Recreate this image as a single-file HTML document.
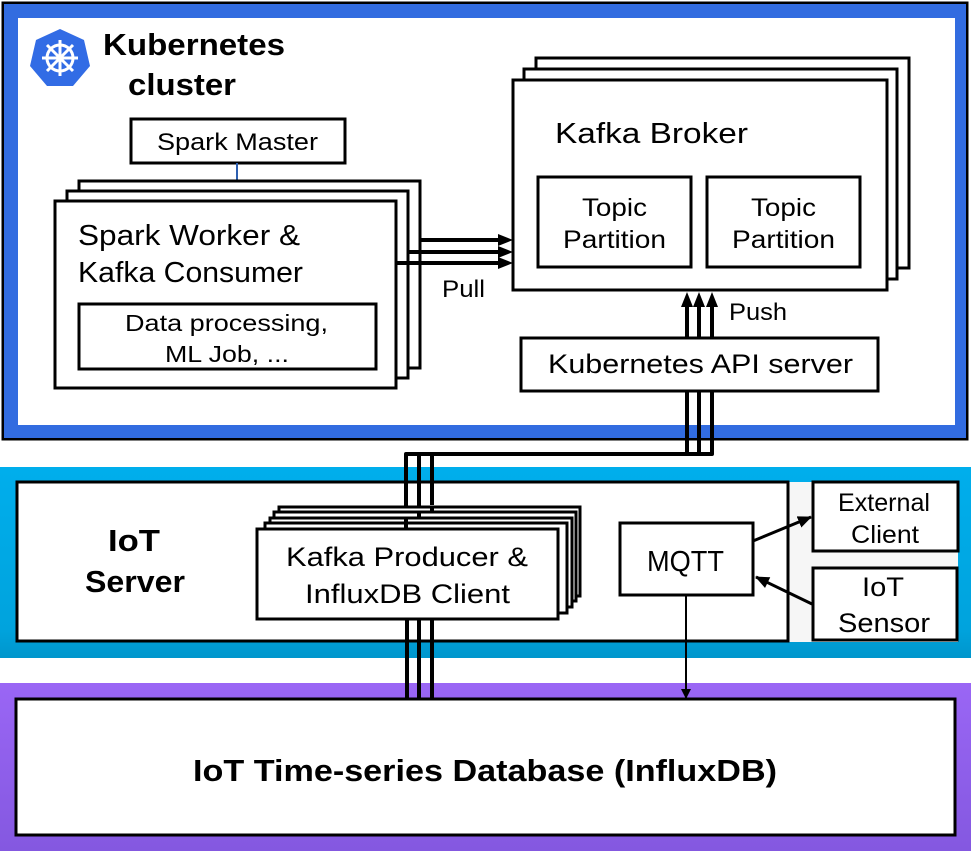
<!DOCTYPE html>
<html><head><meta charset="utf-8"><style>
html,body{margin:0;padding:0;background:#fff;}
svg{display:block;}
text{font-family:"Liberation Sans","DejaVu Sans",sans-serif;fill:#000;}
</style></head><body>
<svg width="971" height="851" viewBox="0 0 971 851" xmlns="http://www.w3.org/2000/svg">
<defs>
<linearGradient id="cy" x1="0" y1="0" x2="0" y2="1"><stop offset="0" stop-color="#00aeec"/><stop offset="0.85" stop-color="#00a3dd"/><stop offset="1" stop-color="#0096cc"/></linearGradient>
<linearGradient id="pu" x1="0" y1="0" x2="0" y2="1"><stop offset="0" stop-color="#9a66f5"/><stop offset="1" stop-color="#8458e0"/></linearGradient>
<marker id="ah" markerWidth="10" markerHeight="10" refX="9" refY="5" orient="auto" markerUnits="userSpaceOnUse"><path d="M0,0 L10,5 L0,10 z" fill="#000"/></marker>
<marker id="ahb" markerWidth="14" markerHeight="12" refX="13" refY="6" orient="auto" markerUnits="userSpaceOnUse"><path d="M0,0 L14,6 L0,12 z" fill="#000"/></marker>
</defs>

<rect x="1.5" y="1.5" width="967" height="439" fill="#000"/>
<rect x="4" y="4" width="962" height="434" fill="#326ce0"/>
<rect x="18" y="18" width="937" height="407" fill="#fff"/>

<polygon points="60,29 84,40 90,66 73,86 47,86 30,66 36,40" fill="#326ce5"/>
<g stroke="#fff" stroke-width="3" fill="none">
<circle cx="60" cy="58" r="13"/>
<line x1="60" y1="40" x2="60" y2="76"/><line x1="42" y1="58" x2="78" y2="58"/>
<line x1="47" y1="45" x2="73" y2="71"/><line x1="73" y1="45" x2="47" y2="71"/>
</g>
<circle cx="60" cy="58" r="3" fill="#fff"/>

<text x="103" y="55" font-size="31" font-weight="bold" textLength="182" lengthAdjust="spacingAndGlyphs">Kubernetes</text>
<text x="128" y="95" font-size="31" font-weight="bold" textLength="108" lengthAdjust="spacingAndGlyphs">cluster</text>

<rect x="131" y="119" width="214" height="44" fill="#fff" stroke="#000" stroke-width="3"/>
<text x="157" y="150" font-size="24" textLength="161" lengthAdjust="spacingAndGlyphs">Spark Master</text>
<line x1="237" y1="163" x2="237" y2="190" stroke="#2d5fb0" stroke-width="2"/>

<rect x="79" y="181" width="341" height="187" fill="#fff" stroke="#000" stroke-width="3"/>
<rect x="67" y="191" width="341" height="187" fill="#fff" stroke="#000" stroke-width="3"/>
<rect x="55" y="201" width="341" height="187" fill="#fff" stroke="#000" stroke-width="3"/>
<text x="78" y="245" font-size="29" textLength="222" lengthAdjust="spacingAndGlyphs">Spark Worker &amp;</text>
<text x="78" y="282" font-size="29" textLength="225" lengthAdjust="spacingAndGlyphs">Kafka Consumer</text>
<rect x="79" y="304" width="297" height="65" fill="#fff" stroke="#000" stroke-width="3"/>
<text x="125" y="331" font-size="23" textLength="203" lengthAdjust="spacingAndGlyphs">Data processing,</text>
<text x="165" y="362" font-size="23" textLength="124" lengthAdjust="spacingAndGlyphs">ML Job, ...</text>

<rect x="536" y="58" width="373" height="210" fill="#fff" stroke="#000" stroke-width="3"/>
<rect x="524" y="69" width="373" height="210" fill="#fff" stroke="#000" stroke-width="3"/>
<rect x="513" y="80" width="374" height="210" fill="#fff" stroke="#000" stroke-width="3"/>
<text x="555" y="143" font-size="29" textLength="193" lengthAdjust="spacingAndGlyphs">Kafka Broker</text>
<rect x="538" y="177" width="153" height="90" fill="#fff" stroke="#000" stroke-width="3"/>
<rect x="707" y="177" width="153" height="90" fill="#fff" stroke="#000" stroke-width="3"/>
<text x="582" y="216" font-size="25" textLength="65" lengthAdjust="spacingAndGlyphs">Topic</text>
<text x="563" y="248" font-size="25" textLength="103" lengthAdjust="spacingAndGlyphs">Partition</text>
<text x="751" y="216" font-size="25" textLength="65" lengthAdjust="spacingAndGlyphs">Topic</text>
<text x="732" y="248" font-size="25" textLength="103" lengthAdjust="spacingAndGlyphs">Partition</text>

<g stroke="#000" stroke-width="4">
<line x1="420" y1="240" x2="500" y2="240"/>
<line x1="408" y1="252" x2="500" y2="252"/>
<line x1="396" y1="263" x2="500" y2="263"/>
</g>
<path d="M498,234 L513,240 L498,246 z M498,246 L513,252 L498,258 z M498,257 L513,263 L498,269 z" fill="#000"/>
<text x="442" y="297" font-size="24" textLength="43" lengthAdjust="spacingAndGlyphs">Pull</text>

<rect x="521" y="338" width="357" height="53" fill="#fff" stroke="#000" stroke-width="3"/>
<text x="548" y="373" font-size="27" textLength="305" lengthAdjust="spacingAndGlyphs">Kubernetes API server</text>
<g stroke="#000" stroke-width="4">
<line x1="687" y1="338" x2="687" y2="304"/>
<line x1="699" y1="338" x2="699" y2="304"/>
<line x1="712" y1="338" x2="712" y2="304"/>
</g>
<path d="M681,307 L687,292 L693,307 z M693,307 L699,292 L705,307 z M706,307 L712,292 L718,307 z" fill="#000"/>
<text x="729" y="320" font-size="24" textLength="58" lengthAdjust="spacingAndGlyphs">Push</text>

<rect x="0" y="467" width="971" height="191" fill="url(#cy)"/>
<rect x="788" y="482" width="170" height="160" fill="#f6f6f6"/>
<rect x="17" y="482" width="771" height="159" fill="#fff" stroke="#000" stroke-width="3"/>
<text x="108" y="551" font-size="31" font-weight="bold" textLength="52" lengthAdjust="spacingAndGlyphs">IoT</text>
<text x="85" y="592" font-size="31" font-weight="bold" textLength="100" lengthAdjust="spacingAndGlyphs">Server</text>

<path d="M712,391 L712,454 L406,454 L406,529" fill="none" stroke="#000" stroke-width="4" stroke-linejoin="round"/>
<line x1="699" y1="391" x2="699" y2="454" stroke="#000" stroke-width="4"/>
<line x1="687" y1="391" x2="687" y2="454" stroke="#000" stroke-width="4"/>
<line x1="419" y1="454" x2="419" y2="515" stroke="#000" stroke-width="4"/>
<line x1="432" y1="454" x2="432" y2="505" stroke="#000" stroke-width="4"/>

<rect x="279" y="507" width="301" height="89" fill="#fff" stroke="#000" stroke-width="3"/>
<line x1="432" y1="507" x2="432" y2="513" stroke="#000" stroke-width="4"/>
<rect x="274" y="512" width="302" height="89" fill="#fff" stroke="#000" stroke-width="3"/>
<line x1="419" y1="512" x2="419" y2="518" stroke="#000" stroke-width="4"/>
<rect x="270" y="518" width="302" height="89" fill="#fff" stroke="#000" stroke-width="3"/>
<line x1="406" y1="518" x2="406" y2="524" stroke="#000" stroke-width="4"/>
<rect x="265" y="523" width="302" height="90" fill="#fff" stroke="#000" stroke-width="3"/>
<line x1="406" y1="523" x2="406" y2="529" stroke="#000" stroke-width="4"/>
<rect x="257" y="529" width="301" height="90" fill="#fff" stroke="#000" stroke-width="3"/>
<text x="286" y="566" font-size="27" textLength="242" lengthAdjust="spacingAndGlyphs">Kafka Producer &amp;</text>
<text x="305" y="603" font-size="27" textLength="205" lengthAdjust="spacingAndGlyphs">InfluxDB Client</text>

<rect x="620" y="523" width="133" height="72" fill="#fff" stroke="#000" stroke-width="3"/>
<text x="647" y="571" font-size="29" textLength="77" lengthAdjust="spacingAndGlyphs">MQTT</text>
<rect x="813" y="482" width="145" height="69" fill="#fff" stroke="#000" stroke-width="3"/>
<text x="838" y="511" font-size="25" textLength="92" lengthAdjust="spacingAndGlyphs">External</text>
<text x="851" y="543" font-size="25" textLength="68" lengthAdjust="spacingAndGlyphs">Client</text>
<rect x="813" y="568" width="144" height="72" fill="#fff" stroke="#000" stroke-width="3"/>
<text x="862" y="596" font-size="27" textLength="42" lengthAdjust="spacingAndGlyphs">IoT</text>
<text x="838" y="632" font-size="27" textLength="92" lengthAdjust="spacingAndGlyphs">Sensor</text>
<line x1="753" y1="541" x2="811" y2="517" stroke="#000" stroke-width="3" marker-end="url(#ahb)"/>
<line x1="812" y1="604" x2="756" y2="577" stroke="#000" stroke-width="3" marker-end="url(#ahb)"/>

<rect x="0" y="683" width="971" height="168" fill="url(#pu)"/>
<rect x="16" y="699" width="939" height="136" fill="#fff" stroke="#000" stroke-width="3"/>
<text x="193" y="781" font-size="31" font-weight="bold" textLength="584" lengthAdjust="spacingAndGlyphs">IoT Time-series Database (InfluxDB)</text>

<g stroke="#000" stroke-width="4">
<line x1="407" y1="619" x2="407" y2="699"/>
<line x1="419" y1="619" x2="419" y2="699"/>
<line x1="432" y1="619" x2="432" y2="699"/>
</g>
<line x1="686" y1="595" x2="686" y2="698" stroke="#000" stroke-width="2" marker-end="url(#ah)"/>
</svg>
</body></html>
